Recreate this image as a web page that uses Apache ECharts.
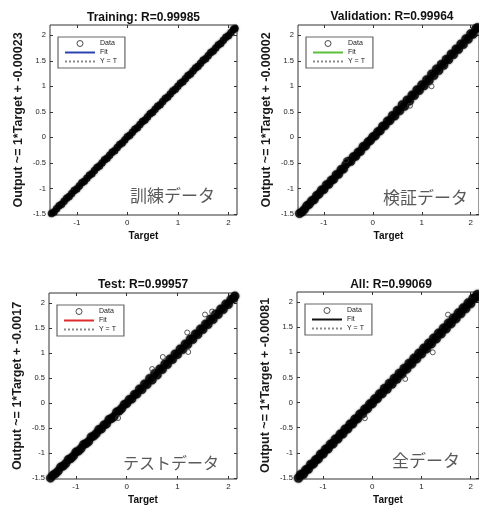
<!DOCTYPE html>
<html><head><meta charset="utf-8">
<script src="https://cdn.jsdelivr.net/npm/echarts@6/dist/echarts.min.js"></script>
<style>html,body{margin:0;padding:0;background:#fff}#c{width:479px;height:506px}</style>
</head><body><div id="c"></div>
<script>
// ---------- data ----------
const titles = ['Training: R=0.99985', 'Validation: R=0.99964', 'Test: R=0.99957', 'All: R=0.99069'];
const yNames = ['Output ~= 1*Target + -0.00023', 'Output ~= 1*Target + -0.00002', 'Output ~= 1*Target + -0.0017', 'Output ~= 1*Target + -0.00081'];
const jpLabels = ['訓練データ', '検証データ', 'テストデータ', '全データ'];
const legendNames = ['Data', 'Fit', 'Y = T'];
const xTicks = [-1, 0, 1, 2];
const yTicks = [-1.5, -1, -0.5, 0, 0.5, 1, 1.5, 2];
const xLim = [-1.53, 2.17];
const yLim = [-1.52, 2.2];
const lineT = [-1.53, 2.17];
const fitOut = [[-1.53, 2.17], [-1.53, 2.17], [-1.532, 2.168], [-1.531, 2.169]];

const trainBand = [[-1.50,-1.49],[-1.45,-1.46],[-1.40,-1.40],[-1.35,-1.34],[-1.30,-1.31],[-1.25,-1.25],[-1.20,-1.19],[-1.15,-1.16],[-1.10,-1.10],[-1.05,-1.04],[-1.00,-1.01],[-0.95,-0.95],[-0.90,-0.89],[-0.85,-0.86],[-0.80,-0.80],[-0.75,-0.74],[-0.70,-0.71],[-0.65,-0.65],[-0.60,-0.59],[-0.55,-0.56],[-0.50,-0.50],[-0.45,-0.44],[-0.40,-0.41],[-0.35,-0.35],[-0.30,-0.29],[-0.25,-0.26],[-0.20,-0.20],[-0.15,-0.14],[-0.10,-0.11],[-0.05,-0.05],[0.00,0.01],[0.05,0.04],[0.10,0.10],[0.15,0.16],[0.20,0.19],[0.25,0.25],[0.30,0.31],[0.35,0.34],[0.40,0.40],[0.45,0.46],[0.50,0.49],[0.55,0.55],[0.60,0.61],[0.65,0.64],[0.70,0.70],[0.75,0.76],[0.80,0.79],[0.85,0.85],[0.90,0.91],[0.95,0.94],[1.00,1.00],[1.05,1.06],[1.10,1.09],[1.15,1.15],[1.20,1.21],[1.25,1.24],[1.30,1.30],[1.35,1.36],[1.40,1.39],[1.45,1.45],[1.50,1.51],[1.55,1.54],[1.60,1.60],[1.65,1.66],[1.70,1.69],[1.75,1.75],[1.80,1.81],[1.85,1.84],[1.90,1.90],[1.95,1.96],[2.00,1.99],[2.05,2.05],[2.10,2.11],[2.13,2.13]];
const trainOut = [];

const valBand = [[-1.50,-1.49],[-1.45,-1.46],[-1.40,-1.41],[-1.35,-1.34],[-1.30,-1.31],[-1.25,-1.24],[-1.20,-1.22],[-1.15,-1.14],[-1.10,-1.11],[-1.05,-1.03],[-1.00,-1.02],[-0.95,-0.93],[-0.90,-0.92],[-0.85,-0.84],[-0.80,-0.82],[-0.75,-0.73],[-0.70,-0.72],[-0.65,-0.63],[-0.60,-0.62],[-0.55,-0.53],[-0.50,-0.47],[-0.45,-0.47],[-0.40,-0.38],[-0.35,-0.37],[-0.30,-0.29],[-0.25,-0.27],[-0.20,-0.18],[-0.15,-0.17],[-0.10,-0.09],[-0.05,-0.06],[0.00,0.01],[0.05,0.03],[0.10,0.11],[0.15,0.13],[0.20,0.22],[0.25,0.23],[0.30,0.32],[0.35,0.33],[0.40,0.43],[0.45,0.42],[0.50,0.53],[0.55,0.52],[0.60,0.64],[0.65,0.61],[0.70,0.73],[0.75,0.71],[0.80,0.83],[0.85,0.82],[0.90,0.93],[0.95,0.92],[1.00,1.03],[1.05,1.01],[1.10,1.13],[1.15,1.11],[1.20,1.24],[1.25,1.21],[1.30,1.34],[1.35,1.31],[1.40,1.43],[1.45,1.41],[1.50,1.53],[1.55,1.52],[1.60,1.63],[1.65,1.62],[1.70,1.73],[1.75,1.72],[1.80,1.83],[1.85,1.82],[1.90,1.93],[1.95,1.92],[2.00,2.03],[2.05,2.02],[2.10,2.12],[2.14,2.15]];
const valOut = [[1.20,1.00],[0.76,0.62],[-0.55,-0.45]];

const testBand = [[-1.50,-1.50],[-1.45,-1.44],[-1.40,-1.41],[-1.35,-1.36],[-1.30,-1.28],[-1.25,-1.26],[-1.20,-1.21],[-1.15,-1.13],[-1.10,-1.11],[-1.05,-1.06],[-1.00,-0.98],[-0.95,-0.96],[-0.90,-0.91],[-0.85,-0.83],[-0.80,-0.81],[-0.75,-0.77],[-0.70,-0.68],[-0.65,-0.66],[-0.60,-0.61],[-0.55,-0.53],[-0.50,-0.52],[-0.45,-0.44],[-0.40,-0.42],[-0.35,-0.33],[-0.30,-0.31],[-0.25,-0.27],[-0.20,-0.18],[-0.15,-0.16],[-0.10,-0.11],[-0.05,-0.03],[0.00,-0.01],[0.05,0.07],[0.10,0.08],[0.15,0.17],[0.20,0.18],[0.25,0.28],[0.30,0.27],[0.35,0.38],[0.40,0.37],[0.45,0.49],[0.50,0.46],[0.55,0.59],[0.60,0.56],[0.65,0.68],[0.70,0.67],[0.75,0.78],[0.80,0.77],[0.85,0.88],[0.90,0.87],[0.95,0.98],[1.00,0.97],[1.05,1.08],[1.10,1.07],[1.15,1.18],[1.20,1.17],[1.25,1.28],[1.30,1.27],[1.35,1.38],[1.40,1.37],[1.45,1.48],[1.50,1.47],[1.55,1.58],[1.60,1.57],[1.65,1.68],[1.70,1.67],[1.75,1.78],[1.80,1.77],[1.85,1.88],[1.90,1.87],[1.95,1.98],[2.00,1.97],[2.05,2.07],[2.10,2.09],[2.13,2.14]];
const testOut = [[1.54,1.77],[1.68,1.83],[1.21,1.02],[0.71,0.92],[0.50,0.68],[-0.17,-0.30],[1.19,1.41]];

const allBand = [[-1.50,-1.50],[-1.45,-1.43],[-1.40,-1.42],[-1.35,-1.34],[-1.30,-1.32],[-1.25,-1.23],[-1.20,-1.22],[-1.15,-1.14],[-1.10,-1.12],[-1.05,-1.03],[-1.00,-1.02],[-0.95,-0.93],[-0.90,-0.92],[-0.85,-0.83],[-0.80,-0.82],[-0.75,-0.73],[-0.70,-0.72],[-0.65,-0.63],[-0.60,-0.62],[-0.55,-0.53],[-0.50,-0.52],[-0.45,-0.43],[-0.40,-0.42],[-0.35,-0.33],[-0.30,-0.32],[-0.25,-0.23],[-0.20,-0.22],[-0.15,-0.13],[-0.10,-0.12],[-0.05,-0.03],[0.00,-0.02],[0.05,0.07],[0.10,0.08],[0.15,0.17],[0.20,0.18],[0.25,0.28],[0.30,0.27],[0.35,0.38],[0.40,0.37],[0.45,0.48],[0.50,0.47],[0.55,0.58],[0.60,0.57],[0.65,0.68],[0.70,0.67],[0.75,0.78],[0.80,0.77],[0.85,0.88],[0.90,0.87],[0.95,0.98],[1.00,0.97],[1.05,1.08],[1.10,1.07],[1.15,1.18],[1.20,1.17],[1.25,1.28],[1.30,1.27],[1.35,1.38],[1.40,1.37],[1.45,1.48],[1.50,1.47],[1.55,1.58],[1.60,1.57],[1.65,1.68],[1.70,1.67],[1.75,1.78],[1.80,1.77],[1.85,1.88],[1.90,1.87],[1.95,1.98],[2.00,1.97],[2.05,2.07],[2.10,2.09],[2.14,2.15]];
const allOut = [[1.23,1.00],[-0.15,-0.31],[0.67,0.47],[1.54,1.75]];

const bands = [trainBand, valBand, testBand, allBand];
const outliers = [trainOut, valOut, testOut, allOut];

// ---------- layout / style ----------
const grids = [
  {left: 50, top: 25, width: 187, height: 190},
  {left: 298, top: 25, width: 188, height: 190},
  {left: 49, top: 293, width: 188, height: 189},
  {left: 297, top: 292, width: 188, height: 189}
];
const fitColors = ['#2b45b0', '#5cbf3a', '#dd2a2a', '#111111'];
const bandSize = [7, 8.5, 8.5, 9];
const titleTops = [12, 11, 279, 279];
const jpPos = [[130, 196, 17], [383, 198, 17], [123, 463, 16], [392, 461, 17]];

const FONT = 'Liberation Sans, Arial, sans-serif';
const option = {
  animation: false,
  backgroundColor: '#fff',
  title: [], grid: [], xAxis: [], yAxis: [], series: [], legend: [], graphic: []
};
const tickStyle = vals => ({show: true, inside: true, length: 3, customValues: vals, lineStyle: {color: '#333'}});
const hidden = {show: false, onZero: false};
const clear = {color: 'rgba(0,0,0,0)', borderColor: 'rgba(0,0,0,0)', borderWidth: 0};

grids.forEach((g, i) => {
  option.grid.push(Object.assign({show: true, borderColor: '#333', borderWidth: 1, backgroundColor: '#fff'}, g));
  option.title.push({
    text: titles[i], left: g.left + g.width / 2, top: titleTops[i], textAlign: 'center', padding: 0,
    textStyle: {fontFamily: FONT, fontSize: 12, fontWeight: 'bold', color: '#111'}
  });
  option.xAxis.push({
    type: 'value', gridIndex: i, min: xLim[0], max: xLim[1], position: 'bottom',
    splitLine: {show: false}, axisLine: hidden,
    name: 'Target', nameLocation: 'middle', nameGap: 16,
    nameTextStyle: {fontFamily: FONT, fontSize: 10, fontWeight: 'bold', color: '#111'},
    axisTick: tickStyle(xTicks),
    axisLabel: {customValues: xTicks, fontFamily: FONT, fontSize: 8, color: '#222', margin: 4}
  });
  option.yAxis.push({
    type: 'value', gridIndex: i, min: yLim[0], max: yLim[1], position: 'left',
    splitLine: {show: false}, axisLine: hidden,
    name: yNames[i], nameLocation: 'middle', nameGap: 25,
    nameTextStyle: {fontFamily: FONT, fontSize: 12.5, fontWeight: 'bold', color: '#1a1a1a'},
    axisTick: tickStyle(yTicks),
    axisLabel: {customValues: yTicks, fontFamily: FONT, fontSize: 7.5, color: '#222', margin: 4}
  });
});
// mirrored ticks on top / right
grids.forEach((g, i) => {
  option.xAxis.push({
    type: 'value', gridIndex: i, min: xLim[0], max: xLim[1], position: 'top',
    splitLine: {show: false}, axisLine: hidden, axisLabel: {show: false}, axisTick: tickStyle(xTicks)
  });
  option.yAxis.push({
    type: 'value', gridIndex: i, min: yLim[0], max: yLim[1], position: 'right',
    splitLine: {show: false}, axisLine: hidden, axisLabel: {show: false}, axisTick: tickStyle(yTicks)
  });
});

grids.forEach((g, i) => {
  const k = '#' + i;
  option.series.push({
    name: 'Y = T' + k, type: 'line', xAxisIndex: i, yAxisIndex: i, z: 1,
    data: lineT.map(t => [t, t]), symbol: 'none', silent: true,
    lineStyle: {color: '#8a8a8a', width: 1, type: 'dotted'}
  });
  option.series.push({
    name: 'Fit' + k, type: 'line', xAxisIndex: i, yAxisIndex: i, z: 2,
    data: lineT.map((t, j) => [t, fitOut[i][j]]), symbol: 'none', silent: true,
    lineStyle: {color: fitColors[i], width: 2.5}, itemStyle: {color: fitColors[i]}
  });
  option.series.push({
    name: 'Data' + k, type: 'scatter', xAxisIndex: i, yAxisIndex: i, z: 3,
    data: bands[i], symbol: 'circle', symbolSize: bandSize[i], clip: false, silent: true,
    itemStyle: {color: '#000', borderColor: '#000', borderWidth: 0.5, shadowBlur: 2, shadowColor: 'rgba(0,0,0,0.6)'}
  });
  option.series.push({
    name: 'Data' + k, type: 'scatter', xAxisIndex: i, yAxisIndex: i, z: 4,
    data: outliers[i], symbol: 'circle', symbolSize: 5, clip: false, silent: true,
    itemStyle: {color: 'rgba(0,0,0,0)', borderColor: '#333', borderWidth: 1}
  });
  option.legend.push({
    orient: 'vertical', left: g.left + 8, top: g.top + 12,
    backgroundColor: '#fff', borderColor: '#666', borderWidth: 1.2,
    padding: [3, 8, 3, 6], itemGap: 2, itemWidth: 30, itemHeight: 6,
    selectedMode: false,
    formatter: n => n.split('#')[0],
    textStyle: {fontFamily: FONT, fontSize: 7, color: '#222'},
    data: [
      {name: legendNames[0] + k, icon: 'circle', itemStyle: {color: 'rgba(0,0,0,0)', borderColor: '#222', borderWidth: 1}},
      {name: legendNames[1] + k, itemStyle: clear},
      {name: legendNames[2] + k, itemStyle: clear}
    ]
  });
  option.graphic.push({
    type: 'text', x: jpPos[i][0], y: jpPos[i][1], z: 100,
    style: {text: jpLabels[i], font: jpPos[i][2] + 'px "Noto Sans CJK JP"', fill: '#5a5a5a', textAlign: 'left', textVerticalAlign: 'middle'}
  });
});

const chart = echarts.init(document.getElementById('c'), null, {renderer: 'canvas'});
chart.setOption(option);
</script>
</body></html>
